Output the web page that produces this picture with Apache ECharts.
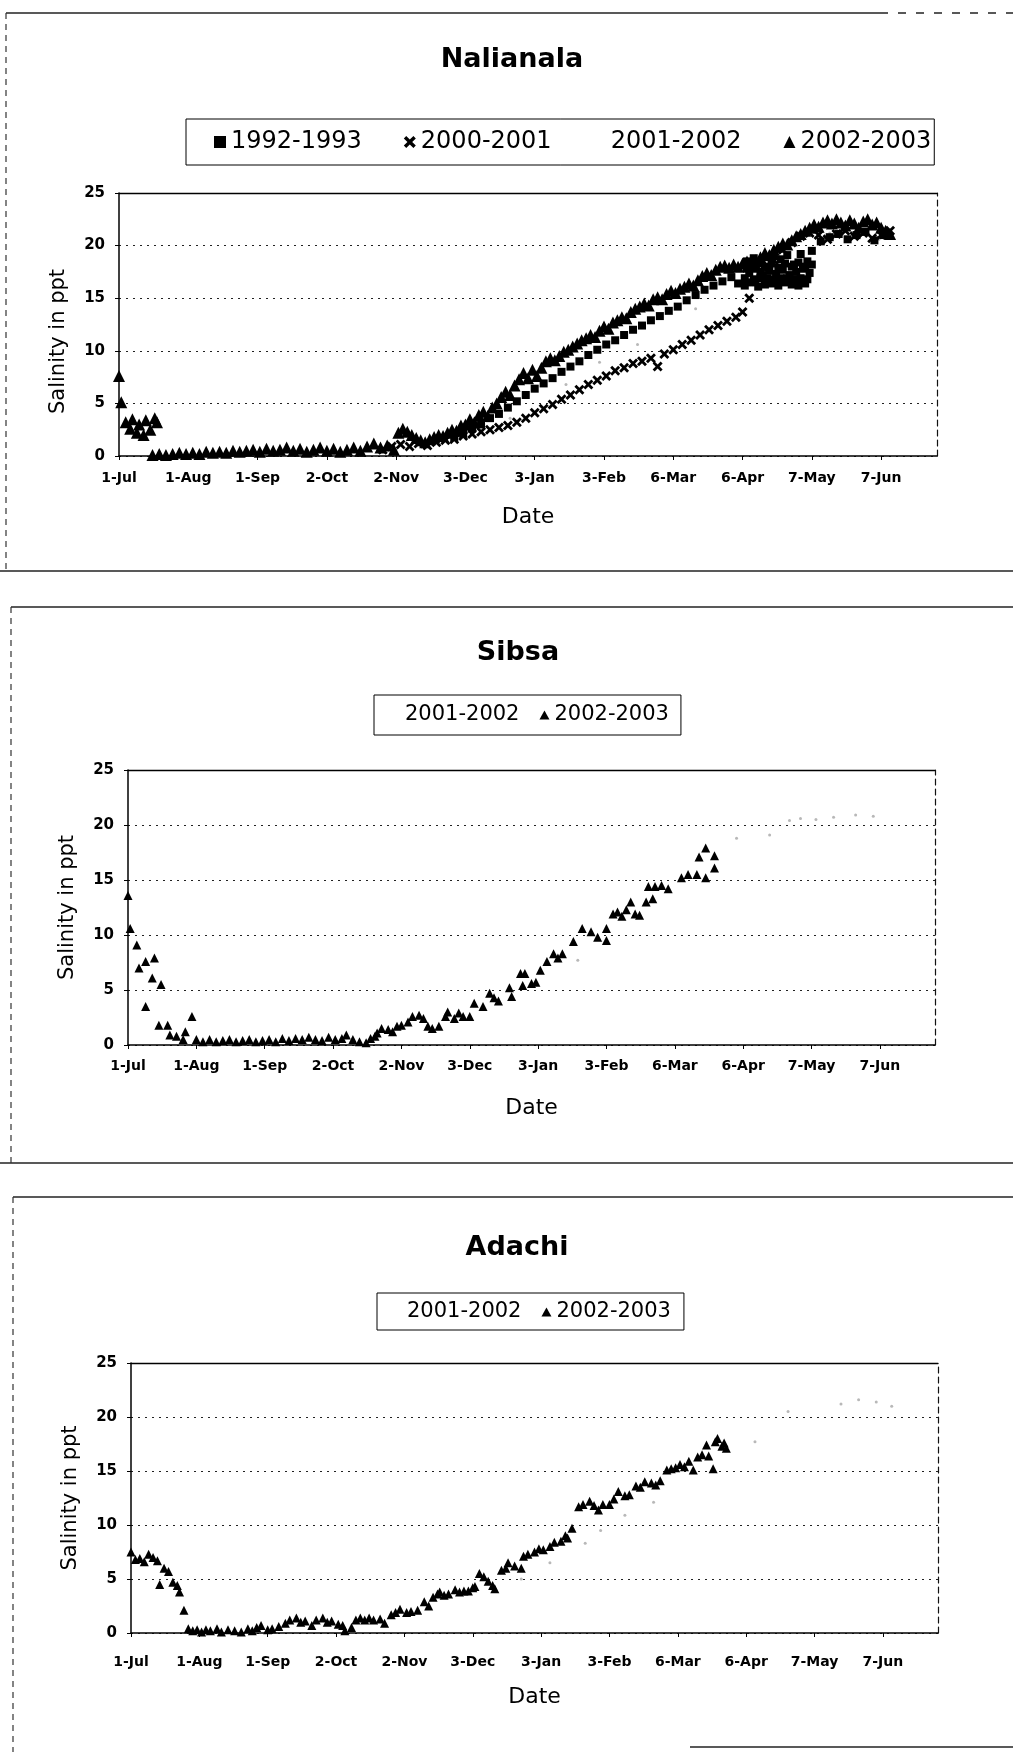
<!DOCTYPE html>
<html>
<head>
<meta charset="utf-8">
<script src="https://cdn.jsdelivr.net/npm/echarts@6/dist/echarts.min.js"></script>
<style>
  html, body { margin: 0; padding: 0; background: #fff; }
  #chart { width: 1013px; height: 1752px; }
</style>
</head>
<body>
<div id="chart"></div>
<script>
// ---------- tick labels (x axis = days after 1 July, one tick every 31 days) ----------
const xTickLabels = ['1-Jul','1-Aug','1-Sep','2-Oct','2-Nov','3-Dec','3-Jan','3-Feb','6-Mar','6-Apr','7-May','7-Jun'];
const yTickValues = [0, 5, 10, 15, 20, 25];

// ---------- Nalianala : [day after 1-Jul, salinity ppt] ----------
const nal9293 = [[150,1.8],[154,2.1],[158,2.6],[162,3.0],[166,3.6],[170,4.0],[174,4.6],[178,5.2],[182,5.8],[186,6.4],[190,6.9],[194,7.4],[198,8.0],[202,8.5],[206,9.0],[210,9.6],[214,10.1],[218,10.6],[222,11.0],[226,11.5],[230,12.0],[234,12.4],[238,12.9],[242,13.3],[246,13.8],[250,14.2],[254,14.8],[258,15.3],[262,15.8],[266,16.2],[270,16.6],[274,17.0],[277,16.4],
  [280,16.2],[281,18.5],[282,17.4],[283,16.5],[284,18.8],[285,17.8],[286,16.1],[287,17.5],[288,17.2],[289,16.3],[290,18.9],[291,17.6],[292,16.4],[293,19.0],[294,17.3],[295,16.2],[296,18.7],[297,17.7],[298,16.5],[299,19.1],[300,17.2],[301,16.3],[302,18.2],[303,17.5],[304,16.2],[305,19.2],[306,17.8],[307,16.4],[308,18.5],[309,17.4],[310,19.5],
  [280,16.9],[281,17.8],[283,18.2],[284,16.8],[286,18.3],[287,16.9],[289,18.0],[290,16.9],[292,18.3],[293,16.8],[295,17.9],[296,16.9],[298,18.3],[299,16.9],[301,18.0],[302,16.8],[304,18.4],[305,16.9],[307,18.0],[308,16.8],[310,18.2],
  [314,20.4],[318,20.8],[322,21.1],[326,20.6],[330,21.0],[334,21.3],[338,20.5],[342,21.0]];
const nal0001 = [[118,0.6],[122,0.9],[126,1.1],[130,0.9],[134,1.2],[138,1.0],[142,1.3],[146,1.5],[150,1.6],[154,1.9],[158,2.1],[162,2.3],[166,2.5],[170,2.7],[174,2.9],[178,3.2],[182,3.6],[186,4.1],[190,4.5],[194,4.9],[198,5.4],[202,5.8],[206,6.3],[210,6.8],[214,7.2],[218,7.6],[222,8.1],[226,8.4],[230,8.8],[234,9.0],[238,9.3],[241,8.5],[244,9.7],[248,10.1],[252,10.6],[256,11.0],[260,11.5],[264,12.0],[268,12.4],[272,12.8],[276,13.2],[279,13.7],[282,15.0],[285,16.6],[289,17.8],[293,18.6],[297,19.6],[301,20.3],[305,20.9],[309,21.2],[313,21.0],[317,20.6],[321,21.1],[325,21.4],[329,20.9],[333,21.2],[337,20.7],[341,21.0],[345,21.4]];
const nal0102 = [[86,0.3],[140,1.5],[175,3.6],[200,6.8],[215,8.9],[232,10.6],[258,14.0],[300,19.0],[318,21.2],[330,20.8],[340,20.6]];
const nal0203 = [[0,7.6],[1,5.1],[3,3.2],[5,2.6],[6,3.5],[8,2.2],[9,3.0],[11,2.0],[12,3.4],[14,2.5],[16,3.6],[17,3.2],
  [15,0.1],[18,0.2],[21,0.1],[24,0.2],[27,0.3],[30,0.2],[33,0.3],[36,0.2],[39,0.4],[42,0.3],[45,0.4],[48,0.3],[51,0.5],[54,0.4],[57,0.5],[60,0.6],[63,0.4],[66,0.7],[69,0.5],[72,0.6],[75,0.8],[78,0.5],[81,0.7],[84,0.4],[87,0.6],[90,0.8],[93,0.5],[96,0.7],[99,0.4],[102,0.6],[105,0.8],[108,0.5],[111,0.9],[114,1.2],[117,0.8],[120,1.0],[123,0.6],
  [125,2.2],[127,2.6],[129,2.3],[131,2.0],[133,1.7],[135,1.5],[137,1.3],[139,1.6],[141,1.8],[143,2.0],[145,1.9],[147,2.2],[149,2.5],[151,2.4],[153,2.9],[155,3.0],[157,3.5],[159,3.2],[161,3.9],[163,4.2],[165,3.8],[167,4.6],[169,5.0],[171,5.6],[173,6.1],[175,5.8],[177,6.7],[179,7.3],[181,7.9],[183,7.4],[185,8.2],[187,7.6],[189,8.4],[191,9.0],[193,9.3],[195,9.1],[197,9.5],[199,9.9],[201,10.1],[203,10.4],[205,10.7],[207,11.0],[209,11.2],[211,11.5],[213,11.3],[215,11.9],[217,12.3],[219,12.1],[221,12.7],[223,12.9],[225,13.2],[227,13.1],[229,13.7],[231,14.0],[233,14.2],[235,14.5],[237,14.3],[239,14.9],[241,15.1],[243,14.9],[245,15.4],[247,15.7],[249,15.5],[251,15.9],[253,16.1],[255,16.4],[257,16.2],[259,16.7],[261,17.1],[263,17.4],[265,17.2],[267,17.7],[269,18.0],[271,18.1],[273,17.9],[275,18.2],[277,18.0],[279,18.3],[281,18.5],[283,18.1],[285,18.6],[287,18.9],[289,19.3],[291,19.1],[293,19.6],[295,19.9],[297,20.2],[299,20.1],[301,20.5],[303,20.9],[305,21.1],[307,21.4],[309,21.7],[311,22.0],[313,21.8],[315,22.2],[317,22.4],[319,22.1],[321,22.5],[323,22.2],[325,21.9],[327,22.4],[329,22.1],[331,21.7],[333,22.3],[335,22.5],[337,22.0],[339,22.2],[341,21.7],[343,21.4],[345,21.1]];

// ---------- Sibsa ----------
const sib0102 = [[204,7.7],[276,18.8],[291,19.1],[300,20.4],[305,20.6],[312,20.5],[320,20.7],[330,20.9],[338,20.8]];
const sib0203 = [[0,13.6],[1,10.6],[4,9.1],[5,7.0],[8,7.6],[8,3.5],[11,6.1],[12,7.9],[14,1.8],[15,5.5],[18,1.8],[19,0.9],[22,0.8],[25,0.5],[26,1.2],[29,2.6],[31,0.5],
  [34,0.3],[37,0.5],[40,0.3],[43,0.4],[46,0.5],[49,0.3],[52,0.4],[55,0.5],[58,0.3],[61,0.4],[64,0.5],[67,0.3],[70,0.6],[73,0.4],[76,0.6],[79,0.5],[82,0.7],[85,0.5],[88,0.4],[91,0.7],[94,0.5],[97,0.6],[99,0.9],[102,0.5],[105,0.3],[108,0.2],[110,0.6],[112,0.8],
  [113,1.1],[115,1.5],[118,1.4],[120,1.2],[122,1.7],[124,1.8],[127,2.1],[129,2.6],[132,2.7],[134,2.4],[136,1.7],[138,1.5],[141,1.7],[144,2.6],[145,3.0],[148,2.4],[150,2.9],[152,2.6],[155,2.6],[157,3.8],[161,3.5],[164,4.7],[166,4.3],[168,4.0],[173,5.2],[174,4.4],[178,6.5],[179,5.4],[180,6.5],[183,5.6],[185,5.7],[187,6.8],[190,7.6],[193,8.3],[195,7.9],[197,8.3],[202,9.4],[206,10.6],[210,10.3],[213,9.8],[217,10.6],[217,9.5],[220,11.9],[222,12.1],[224,11.7],[226,12.3],[228,13.0],[230,11.9],[232,11.8],[235,13.0],[236,14.4],[238,13.3],[239,14.4],[242,14.5],[245,14.2],[251,15.2],[254,15.5],[258,15.5],[259,17.1],[262,15.2],[262,17.9],[266,17.2],[266,16.1]];

// ---------- Adachi ----------
const ada0102 = [[177,5.0],[190,6.5],[206,8.3],[213,9.5],[224,10.9],[237,12.1],[283,17.7],[298,20.5],[322,21.2],[330,21.6],[338,21.4],[345,21.0]];
const ada0203 = [[0,7.5],[2,6.8],[4,6.9],[6,6.6],[8,7.3],[10,7.0],[12,6.7],[13,4.5],[15,6.0],[17,5.7],[19,4.7],[21,4.4],[22,3.8],[24,2.1],
  [26,0.4],[28,0.2],[30,0.3],[32,0.1],[34,0.3],[36,0.2],[39,0.4],[41,0.1],[44,0.3],[47,0.2],[50,0.1],[53,0.4],[55,0.2],[57,0.5],[59,0.7],[62,0.3],[64,0.4],[67,0.6],[70,0.9],[72,1.2],[75,1.4],[77,1.0],[79,1.1],[82,0.7],[84,1.2],[87,1.4],[89,1.0],[91,1.1],[94,0.8],[96,0.7],[97,0.2],[100,0.5],[102,1.2],[104,1.4],[106,1.2],[108,1.4],[110,1.2],[113,1.3],[115,0.9],
  [118,1.7],[120,1.9],[122,2.2],[125,1.9],[127,2.0],[130,2.1],[133,2.9],[135,2.5],[137,3.3],[139,3.6],[140,3.8],[142,3.5],[144,3.6],[147,4.0],[149,3.8],[151,3.9],[153,3.9],[155,4.2],[156,4.3],[158,5.5],[160,5.2],[162,4.8],[164,4.4],[165,4.1],[168,5.8],[170,6.0],[171,6.5],[174,6.2],[177,6.0],[178,7.1],[180,7.3],[183,7.5],[185,7.8],[187,7.7],[190,8.0],[192,8.4],[195,8.5],[197,9.0],[198,8.8],[200,9.7],[203,11.7],[205,11.9],[208,12.2],[210,11.8],[212,11.4],[214,11.9],[217,11.9],[219,12.4],[221,13.1],[224,12.7],[226,12.8],[229,13.6],[231,13.5],[233,14.0],[236,13.9],[238,13.7],[240,14.1],[243,15.1],[245,15.2],[247,15.3],[249,15.6],[251,15.4],[253,15.9],[255,15.1],[257,16.3],[259,16.5],[261,17.4],[262,16.4],[264,15.2],[265,17.7],[266,18.0],[268,17.3],[269,17.6],[270,17.1]];

// ---------- styling / layout ----------
const FONT = 'DejaVu Sans';
const X_SYMBOL = 'path://M0,2L2,0L5,3L8,0L10,2L7,5L10,8L8,10L5,7L2,10L0,8L3,5Z';
const charts = [
  { title: 'Nalianala', titleX: 512, titleY: 60, labelMargin: 15, dateGap: 50, namePad: [0, 34, 0, 0],
    grid: { left: 119, top: 193, width: 818, height: 263 } },
  { title: 'Sibsa', titleX: 518, titleY: 653, labelMargin: 14, dateGap: 52, namePad: [0, 0, 0, 0],
    grid: { left: 128, top: 770, width: 807, height: 275 } },
  { title: 'Adachi', titleX: 517, titleY: 1248, labelMargin: 22, dateGap: 53, namePad: [0, 0, 0, 0],
    grid: { left: 131, top: 1363, width: 807, height: 270 } }
];

const xAxes = [], yAxes = [], series = [], titles = [], grids = [];
charts.forEach((c, i) => {
  grids.push(Object.assign({ containLabel: false }, c.grid));
  titles.push({ text: c.title, left: c.titleX, top: c.titleY, textAlign: 'center', textVerticalAlign: 'middle', padding: 0,
    textStyle: { fontFamily: FONT, fontSize: 27, fontWeight: 'bold', color: '#000' } });
  xAxes.push({
    gridIndex: i, type: 'value', min: 0, max: 366, interval: 31, position: 'bottom',
    axisLine: { show: true, onZero: false, lineStyle: { color: '#000', width: 1.5 } },
    axisTick: { show: true, length: 4, lineStyle: { color: '#000' } },
    splitLine: { show: false },
    axisLabel: { margin: c.labelMargin, color: '#000', fontFamily: FONT, fontSize: 14, fontWeight: 'bold',
      showMaxLabel: false,
      formatter: v => (v % 31 === 0 ? (xTickLabels[v / 31] || '') : '') },
    name: 'Date', nameLocation: 'middle', nameGap: c.dateGap,
    nameTextStyle: { fontFamily: FONT, fontSize: 22, color: '#000' }
  });
  xAxes.push({
    gridIndex: i, type: 'value', min: 0, max: 366, position: 'top',
    axisLine: { show: true, onZero: false, lineStyle: { color: '#000', width: 1.4 } },
    axisTick: { show: false }, axisLabel: { show: false }, splitLine: { show: false }
  });
  yAxes.push({
    gridIndex: i, type: 'value', min: 0, max: 25, interval: 5, position: 'left',
    axisLine: { show: true, onZero: false, lineStyle: { color: '#000', width: 1.5 } },
    axisTick: { show: true, length: 4, lineStyle: { color: '#000' } },
    splitLine: { show: true, lineStyle: { color: '#222', width: 1, type: [2, 5] } },
    axisLabel: { margin: 14, color: '#000', fontFamily: FONT, fontSize: 15, fontWeight: 'bold',
      formatter: v => (yTickValues.indexOf(v) >= 0 ? String(v) : '') },
    name: 'Salinity in ppt', nameLocation: 'middle', nameGap: 50, nameRotate: 90,
    nameTextStyle: { fontFamily: FONT, fontSize: 21, color: '#000', padding: c.namePad }
  });
  yAxes.push({
    gridIndex: i, type: 'value', min: 0, max: 25, position: 'right',
    axisLine: { show: true, onZero: false, lineStyle: { color: '#111', width: 1.2, type: [6, 4] } },
    axisTick: { show: false }, axisLabel: { show: false }, splitLine: { show: false }
  });
});

function sc(name, idx, data, symbol, size, color) {
  return { type: 'scatter', name, xAxisIndex: 2 * idx, yAxisIndex: 2 * idx, data,
    symbol, symbolSize: size, itemStyle: { color, opacity: 1 }, silent: true, animation: false };
}
series.push(
  sc('2001-2002', 0, nal0102, 'circle', 3, '#b8b8b8'),
  sc('1992-1993', 0, nal9293, 'rect', 8, '#000'),
  sc('2000-2001', 0, nal0001, X_SYMBOL, 10, '#000'),
  sc('2002-2003', 0, nal0203, 'triangle', 12, '#000'),
  sc('2001-2002', 1, sib0102, 'circle', 3, '#b8b8b8'),
  sc('2002-2003', 1, sib0203, 'triangle', 9, '#000'),
  sc('2001-2002', 2, ada0102, 'circle', 3, '#b8b8b8'),
  sc('2002-2003', 2, ada0203, 'triangle', 9, '#000')
);

const hidden = { color: 'rgba(0,0,0,0)', borderWidth: 0 };
const black = { color: '#000', borderWidth: 0 };
const legends = [
  { left: 186, top: 119, itemGap: 42, itemWidth: 12, itemHeight: 12, padding: [8, 3, 8, 28],
    lineHeight: 30, fontSize: 24,
    data: [ { name: '1992-1993', icon: 'rect', itemStyle: black },
            { name: '2000-2001', icon: X_SYMBOL, itemStyle: black },
            { name: '2001-2002', icon: 'rect', itemStyle: hidden },
            { name: '2002-2003', icon: 'triangle', itemStyle: black } ] },
  { left: 374, top: 695, itemGap: 20, itemWidth: 10, itemHeight: 9, padding: [7, 12, 7, 16],
    lineHeight: 26, fontSize: 21,
    data: [ { name: '2001-2002', icon: 'rect', itemStyle: hidden },
            { name: '2002-2003', icon: 'triangle', itemStyle: black } ] },
  { left: 377, top: 1293, itemGap: 20, itemWidth: 10, itemHeight: 9, padding: [6, 13, 5, 15],
    lineHeight: 26, fontSize: 21,
    data: [ { name: '2001-2002', icon: 'rect', itemStyle: hidden },
            { name: '2002-2003', icon: 'triangle', itemStyle: black } ] }
].map(l => ({
  orient: 'horizontal', left: l.left, top: l.top, itemGap: l.itemGap, itemWidth: l.itemWidth, itemHeight: l.itemHeight,
  padding: l.padding, borderColor: '#000', borderWidth: 1, backgroundColor: '#fff', selectedMode: false,
  textStyle: { fontFamily: FONT, fontSize: l.fontSize, color: '#000', lineHeight: l.lineHeight },
  data: l.data
}));

// page frames of the scanned panels (decoration only)
function hline(x1, x2, y, dash) {
  return { type: 'line', shape: { x1, y1: y, x2, y2: y }, style: { stroke: '#222', lineWidth: 1.5, lineDash: dash || null }, silent: true };
}
function vline(x, y1, y2, dash) {
  return { type: 'line', shape: { x1: x, y1, x2: x, y2 }, style: { stroke: '#333', lineWidth: 1.2, lineDash: dash || null }, silent: true };
}
const frames = [
  hline(6, 880, 13), hline(880, 1013, 13, [8, 10]), hline(0, 1013, 571), vline(6, 13, 571, [6, 5]),
  hline(11, 1013, 607), hline(0, 1013, 1163), vline(11, 607, 1163, [6, 5]),
  hline(13, 1013, 1197), vline(13, 1197, 1752, [6, 5]), hline(690, 1013, 1747)
];

const chart = echarts.init(document.getElementById('chart'), null, { renderer: 'canvas' });
chart.setOption({
  animation: false,
  backgroundColor: '#fff',
  title: titles,
  grid: grids,
  xAxis: xAxes,
  yAxis: yAxes,
  legend: legends,
  series: series,
  graphic: { elements: frames }
});
</script>
</body>
</html>
